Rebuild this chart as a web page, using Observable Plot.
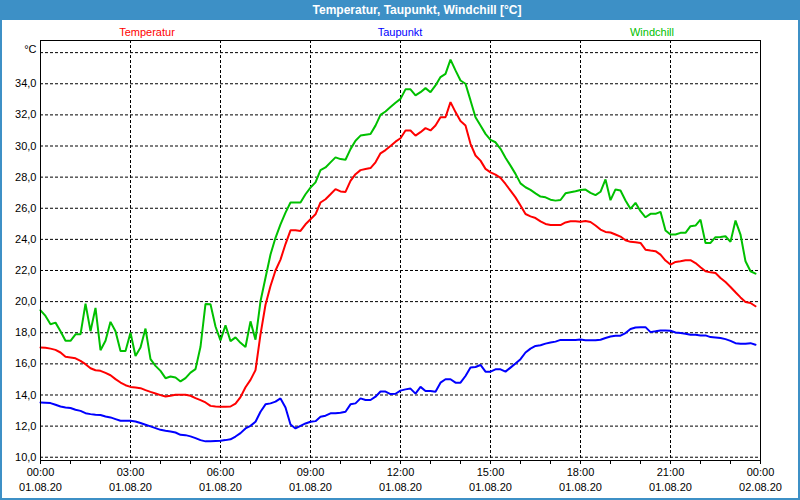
<!DOCTYPE html>
<html><head><meta charset="utf-8">
<script src="https://cdn.jsdelivr.net/npm/d3@7"></script>
<script src="https://cdn.jsdelivr.net/npm/@observablehq/plot@0.6"></script>
<style>
body{margin:0;background:#fff;}
#wrap{position:relative;width:800px;height:500px;overflow:hidden;background:#fff;font-family:"Liberation Sans",Arial,sans-serif;}
#title{position:absolute;left:0;top:0;width:800px;height:20px;background:#3d90c6;color:#fff;font-weight:bold;font-size:12px;line-height:20px;text-align:center;padding-left:34px;box-sizing:border-box;z-index:2}
#border{position:absolute;left:0;top:0;width:800px;height:500px;border:2px solid #3d90c6;border-top:none;box-sizing:border-box;z-index:3;pointer-events:none}
#chart{position:absolute;left:0;top:20px}
.leg{position:absolute;top:25px;font-size:11px;line-height:14px;transform:translateX(-50%);z-index:2;white-space:nowrap}
</style></head>
<body>
<div id="wrap">
  <div id="title"></div>
  <div id="legend"></div>
  <div id="chart"></div>
  <div id="border"></div>
</div>
<script>
const titleText = "Temperatur, Taupunkt, Windchill [°C]";
const seriesNames = ["Temperatur", "Taupunkt", "Windchill"];
const seriesColors = ["#ff0000", "#0000ff", "#00c000"];
const legendX = [147, 400, 652];

const day = "2020-08-01";
const times = [
"00:00","00:10","00:20","00:30","00:40","00:50","01:00","01:10","01:20","01:30","01:40","01:50",
"02:00","02:10","02:20","02:30","02:40","02:50","03:00","03:10","03:20","03:30","03:40","03:50",
"04:00","04:10","04:20","04:30","04:40","04:50","05:00","05:10","05:20","05:30","05:40","05:50",
"06:00","06:10","06:20","06:30","06:40","06:50","07:00","07:10","07:20","07:30","07:40","07:50",
"08:00","08:10","08:20","08:30","08:40","08:50","09:00","09:10","09:20","09:30","09:40","09:50",
"10:00","10:10","10:20","10:30","10:40","10:50","11:00","11:10","11:20","11:30","11:40","11:50",
"12:00","12:10","12:20","12:30","12:40","12:50","13:00","13:10","13:20","13:30","13:40","13:50",
"14:00","14:10","14:20","14:30","14:40","14:50","15:00","15:10","15:20","15:30","15:40","15:50",
"16:00","16:10","16:20","16:30","16:40","16:50","17:00","17:10","17:20","17:30","17:40","17:50",
"18:00","18:10","18:20","18:30","18:40","18:50","19:00","19:10","19:20","19:30","19:40","19:50",
"20:00","20:10","20:20","20:30","20:40","20:50","21:00","21:10","21:20","21:30","21:40","21:50",
"22:00","22:10","22:20","22:30","22:40","22:50","23:00","23:10","23:20","23:30","23:40","23:50"];

const temperatur = [
17.05,17.03,16.98,16.9,16.73,16.45, 16.41,16.36,16.19,15.98,15.72,15.59,
15.55,15.42,15.27,15.02,14.8,14.63, 14.52,14.48,14.44,14.31,14.2,14.1,
13.99,13.9,13.95,14.01,14.01,14.01, 13.95,13.8,13.67,13.52,13.3,13.26,
13.24,13.24,13.26,13.45,13.86,14.5, 14.97,15.6,17.9,19.8,21.0,22.0,
22.7,23.7,24.58,24.58,24.54,24.97, 25.29,25.61,26.37,26.58,26.9,27.23,
27.08,27.05,27.76,28.19,28.45,28.52, 28.58,28.95,29.53,29.74,30.0,30.28,
30.5,31.0,31.0,30.67,30.89,31.15, 31.0,31.32,31.85,31.85,32.82,32.18,
31.6,31.32,30.14,29.39,29.06,28.53, 28.31,28.16,27.95,27.56,27.13,26.7,
26.17,25.63,25.48,25.37,25.16,24.99, 24.92,24.92,24.92,25.09,25.16,25.16,
25.14,25.18,25.12,24.89,24.63,24.48, 24.44,24.31,24.18,23.94,23.84,23.82,
23.77,23.34,23.28,23.24,23.02,22.64, 22.38,22.55,22.59,22.66,22.66,22.48,
22.21,21.95,21.88,21.84,21.52,21.26, 20.94,20.6,20.27,19.97,19.91,19.7];

const taupunkt = [
13.52,13.5,13.48,13.37,13.26,13.2, 13.16,13.05,12.98,12.83,12.77,12.73,
12.71,12.62,12.56,12.45,12.34,12.34, 12.34,12.3,12.2,12.09,11.98,11.87,
11.76,11.7,11.66,11.59,11.44,11.42, 11.34,11.23,11.1,11.02,11.02,11.04,
11.06,11.1,11.15,11.33,11.55,11.85, 12.02,12.28,12.92,13.4,13.46,13.57,
13.78,13.2,12.1,11.85,12.02,12.17, 12.28,12.32,12.6,12.67,12.82,12.82,
12.86,12.92,13.4,13.46,13.78,13.68, 13.68,13.89,14.22,14.22,14.06,14.08,
14.28,14.36,14.41,14.09,14.52,14.26, 14.26,14.21,14.79,15.01,15.01,14.79,
14.79,15.22,15.76,15.8,15.93,15.5, 15.5,15.65,15.65,15.5,15.76,16.02,
16.3,16.73,16.98,17.15,17.2,17.3, 17.37,17.43,17.54,17.54,17.54,17.54,
17.56,17.52,17.52,17.51,17.55,17.66, 17.76,17.81,17.81,17.98,18.24,18.34,
18.36,18.36,18.04,18.09,18.15,18.15, 18.13,18.02,17.98,17.94,17.87,17.87,
17.83,17.83,17.72,17.7,17.66,17.59, 17.48,17.33,17.29,17.29,17.33,17.23];

const windchill = [
19.44,19.08,18.55,18.65,18.1,17.48, 17.48,17.9,17.9,19.87,18.1,19.6,
16.88,17.48,18.7,18.1,16.83,16.83, 18.0,16.5,17.05,18.27,16.3,15.87,
15.55,15.08,15.19,15.12,14.87,15.08, 15.44,15.66,17.1,19.85,19.83,18.4,
17.5,18.48,17.46,17.7,17.35,17.08, 18.73,17.55,20.02,21.53,23.03,24.1,
24.97,25.72,26.37,26.37,26.37,26.9, 27.33,27.66,28.45,28.62,28.95,29.27,
29.16,29.12,29.8,30.34,30.67,30.73, 30.77,31.31,32.0,32.22,32.5,32.78,
33.03,33.64,33.64,33.25,33.46,33.72, 33.46,33.89,34.43,34.64,35.55,34.86,
34.21,34.0,32.93,31.85,31.32,30.78, 30.39,30.24,29.82,29.24,28.74,28.21,
27.6,27.35,27.18,26.96,26.75,26.7, 26.55,26.49,26.53,26.96,27.03,27.09,
27.17,27.2,26.99,26.84,27.06,27.85, 26.52,27.21,27.14,26.5,25.96,26.35,
25.81,25.42,25.64,25.64,25.77,24.57, 24.31,24.31,24.42,24.42,24.85,24.89,
25.27,23.77,23.77,24.14,24.16,24.2, 23.84,25.21,24.31,22.59,21.95,21.8];

const xTickStamps = ["2020-08-01 00:00","2020-08-01 03:00","2020-08-01 06:00","2020-08-01 09:00","2020-08-01 12:00","2020-08-01 15:00","2020-08-01 18:00","2020-08-01 21:00","2020-08-02 00:00"];
const xTickTimeLabels = ["00:00","03:00","06:00","09:00","12:00","15:00","18:00","21:00","00:00"];
const xTickDateLabels = ["01.08.20","01.08.20","01.08.20","01.08.20","01.08.20","01.08.20","01.08.20","01.08.20","02.08.20"];
const yTickValues = [10,12,14,16,18,20,22,24,26,28,30,32,34];
const yGridValues = [10,12,14,16,18,20,22,24,26,28,30,32,34,36];
const yUnit = "°C";
const yDomain = [9.79, 36.78];

document.getElementById("title").textContent = titleText;
const leg = document.getElementById("legend");
seriesNames.forEach((n, i) => {
  const s = document.createElement("span");
  s.className = "leg"; s.textContent = n; s.style.color = seriesColors[i]; s.style.left = legendX[i] + "px";
  leg.appendChild(s);
});

const parse = d3.utcParse("%Y-%m-%d %H:%M");
const t = times.map(s => parse(day + " " + s));
const tickDates = xTickStamps.map(parse);
const start = tickDates[0], end = tickDates[tickDates.length - 1];
const hourTicks = d3.utcHour.range(start, d3.utcHour.offset(end, 1));
const vGrid = tickDates.slice(1, -1);

const valuesBySeries = [temperatur, taupunkt, windchill];
const rows = seriesNames.flatMap((n, si) => valuesBySeries[si].map((v, i) => ({t: t[i], v, name: n})));

const chart = Plot.plot({
  width: 800, height: 480,
  marginTop: 20, marginBottom: 40, marginLeft: 40, marginRight: 40,
  x: {type: "utc", domain: [start, end]},
  y: {domain: yDomain},
  color: {domain: seriesNames, range: seriesColors},
  style: {fontFamily: "Liberation Sans, Arial, sans-serif", fontSize: "11px", color: "#000", background: "transparent"},
  marks: [
    Plot.ruleY(yGridValues, {stroke: "#000", strokeDasharray: "3,2", strokeOpacity: 1}),
    Plot.ruleX(vGrid, {stroke: "#000", strokeDasharray: "3,2", strokeOpacity: 1}),
    Plot.line(rows, {x: "t", y: "v", z: "name", stroke: "name", strokeWidth: 2, strokeLinejoin: "miter"}),
    Plot.frame({stroke: "#000", strokeOpacity: 1}),
    Plot.axisY(yTickValues, {tickSize: 0, tickPadding: 4, tickFormat: d => d.toFixed(1).replace(".", ","), label: null, fill: "#000"}),
    Plot.axisX(hourTicks, {tickSize: 4, fill: "none", label: null, stroke: "#000"}),
    Plot.text(tickDates, {x: d => d, text: (d, i) => xTickTimeLabels[i], frameAnchor: "bottom", dy: 15, fill: "#000"}),
    Plot.text(tickDates, {x: d => d, text: (d, i) => xTickDateLabels[i], frameAnchor: "bottom", dy: 30, fill: "#000"}),
    Plot.text([yUnit], {frameAnchor: "top-left", dx: -4, dy: 5, textAnchor: "end", fill: "#000"})
  ]
});
document.getElementById("chart").appendChild(chart);
</script>
</body></html>
